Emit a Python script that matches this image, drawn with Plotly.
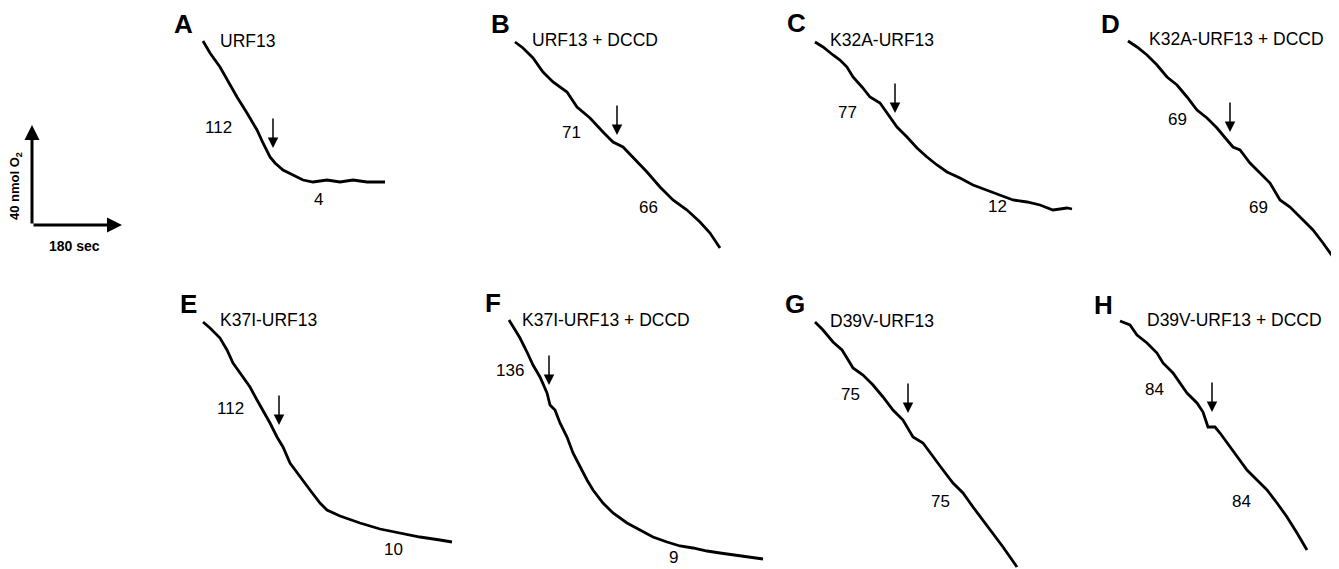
import plotly.graph_objects as go

# ---------------- data (time in s, O2 change in nmol) ----------------
panels = ["A", "B", "C", "D", "E", "F", "G", "H"]
titles = ["URF13", "URF13 + DCCD", "K32A-URF13", "K32A-URF13 + DCCD",
          "K37I-URF13", "K37I-URF13 + DCCD", "D39V-URF13", "D39V-URF13 + DCCD"]
rate_before = [112, 71, 77, 69, 112, 136, 75, 84]
rate_after = [4, 66, 12, 69, 10, 9, 75, 84]
add_time = [140, 204, 160, 204, 152, 80, 186, 184]
add_o2 = [-42.8, -37.2, -28.4, -36.4, -41.2, -26.0, -36.4, -36.4]

time_A = [0, 14, 34, 48, 68, 88, 108, 120, 134, 144, 160, 180, 200, 220, 248, 274, 300, 328, 364]
o2_A = [0, -4.8, -10.4, -15.6, -22.4, -28.8, -35.6, -40.8, -46.4, -48.8, -51.6, -53.6, -55.6,
        -56.4, -55.6, -56.4, -55.6, -56.4, -56.4]

time_B = [0, 16, 36, 56, 76, 104, 124, 150, 176, 196, 216, 236, 264, 290, 316, 344, 370, 390, 410]
o2_B = [0, -2.4, -6.4, -12, -16, -20, -26, -30.4, -36, -40, -42, -46, -52, -58, -63.2, -67.2,
        -72, -76.4, -82.4]

time_C = [0, 16, 36, 50, 64, 76, 94, 110, 130, 150, 164, 184, 204, 224, 244, 264, 290, 316, 344,
          370, 396, 424, 450, 476, 504, 514]
o2_C = [0, -2, -5.2, -7.2, -10, -14, -18, -22, -24.4, -30, -34, -38, -42.4, -46, -49.2, -52,
        -54.4, -57.2, -59.2, -61.2, -63.2, -64, -65.2, -67.2, -66.4, -66.8]

time_D = [0, 18, 38, 58, 78, 98, 118, 138, 158, 178, 198, 210, 224, 244, 264, 284, 304, 324,
          344, 370, 390, 410]
o2_D = [0, -2.4, -5.6, -9.6, -14.4, -17.6, -22.4, -27.6, -30.8, -34.8, -39.6, -42.4, -43.6,
        -48.8, -52.8, -56.8, -63.6, -66.4, -70.4, -75.6, -80.8, -86.4]

time_E = [0, 14, 34, 48, 60, 80, 94, 108, 120, 134, 148, 160, 174, 194, 214, 234, 248, 274,
          314, 354, 394, 434, 474, 498]
o2_E = [0, -2.4, -6.4, -11.2, -16.4, -22, -26, -31.2, -35.2, -40.4, -46, -50, -56.4, -62,
        -67.2, -72.4, -75.2, -77.6, -80.4, -82.8, -84.4, -86, -87.2, -88]

time_F = [0, 8, 22, 36, 48, 62, 76, 82, 92, 102, 116, 128, 142, 156, 168, 188, 208, 236, 262,
          288, 316, 342, 368, 396, 422, 448, 476, 508]
o2_F = [0, -2.8, -7.2, -12.8, -18, -22.8, -29.2, -34, -36, -41.2, -46.8, -53.2, -58.8, -64,
        -68, -73.2, -77.2, -81.2, -84, -86.8, -88.8, -90.4, -91.2, -92.4, -93.2, -94, -94.8, -95.6]

time_G = [0, 16, 36, 54, 64, 76, 96, 116, 136, 156, 176, 196, 216, 236, 256, 276, 296, 316,
          336, 356, 376, 390, 404]
o2_G = [0, -3.2, -8, -11.2, -14.4, -18.4, -21.2, -25.2, -30, -35.2, -39.2, -46, -48.4, -54,
        -59.2, -64.4, -68.4, -74, -79.2, -84.4, -90, -94, -98]

time_H = [0, 20, 34, 54, 74, 86, 106, 120, 134, 154, 166, 176, 190, 200, 220, 240, 254, 274,
          294, 314, 334, 354, 374]
o2_H = [0, -1.6, -5.6, -8.8, -12.8, -16.8, -20.8, -24.8, -28.8, -32.8, -36.4, -42.4, -42.4,
        -44.8, -50.4, -55.6, -59.6, -63.6, -67.6, -72.8, -78.4, -84.8, -91.6]

times = [time_A, time_B, time_C, time_D, time_E, time_F, time_G, time_H]
o2s = [o2_A, o2_B, o2_C, o2_D, o2_E, o2_F, o2_G, o2_H]

scale_time = 180   # s
scale_o2 = 40      # nmol O2

# ---------------- layout (pixel positions in the 1339x569 window) ----------------
W, H = 1339, 569
OFF = 8                    # page body margin
FW, FH = W - OFF, H - OFF  # figure size
SX, SY = 0.5, 2.5          # px per second, px per nmol

origins = [(203, 41), (515, 42), (815, 42), (1128, 41),
           (203, 322), (509, 320), (815, 322), (1120, 321)]
letter_pos = [(183, 24), (500, 24), (796, 23), (1110, 24),
              (188, 304), (493, 303), (795, 304), (1103, 305)]
title_pos = [(218, 41), (530, 40), (828, 40), (1147, 39),
             (218, 320), (520, 320), (828, 321), (1145, 320)]
rate1_pos = [(218, 127), (571, 132), (847, 112), (1177, 119),
             (230, 408), (510, 370), (850, 394), (1154, 389)]
rate2_pos = [(318, 199), (648, 208), (997, 206), (1258, 208),
             (394, 549), (673, 557), (940, 501), (1241, 501)]

FONT = "Liberation Sans, Arial, Helvetica, sans-serif"


def px(x):
    return (x - OFF) / FW


def py(y):
    return 1 - (y - OFF) / FH


def axnames(n):
    s = "" if n == 1 else str(n)
    return "x" + s, "y" + s, "xaxis" + s, "yaxis" + s


fig = go.Figure()
layout_axes = {}
annotations = []


def add_axes(n, x0, y0, left, right, top, bottom):
    xr, yr, xk, yk = axnames(n)
    left, right = max(left, OFF), min(right, W)
    top, bottom = max(top, OFF), min(bottom, H)
    layout_axes[xk] = dict(domain=[px(left), px(right)],
                           range=[(left - x0) / SX, (right - x0) / SX],
                           visible=False, fixedrange=True, anchor=yr)
    layout_axes[yk] = dict(domain=[py(bottom), py(top)],
                           range=[-(bottom - y0) / SY, (y0 - top) / SY],
                           visible=False, fixedrange=True, anchor=xr)
    return xr, yr


for i, p in enumerate(panels):
    x0, y0 = origins[i]
    xr, yr = add_axes(i + 1, x0, y0, x0 - 30, x0 + 260, y0 - 40, y0 + 250)
    fig.add_trace(go.Scatter(x=times[i], y=o2s[i], mode="lines",
                             line=dict(color="black", width=2.8),
                             xaxis=xr, yaxis=yr, showlegend=False,
                             hoverinfo="skip"))
    # addition arrow
    annotations.append(dict(x=add_time[i], y=add_o2[i], xref=xr, yref=yr,
                            ax=0, ay=-31, showarrow=True, arrowhead=2,
                            arrowsize=1.4, arrowwidth=1.5, arrowcolor="black",
                            text=""))
    lx, ly = letter_pos[i]
    annotations.append(dict(x=px(lx), y=py(ly), xref="paper", yref="paper",
                            text="<b>%s</b>" % p, showarrow=False,
                            font=dict(family=FONT, size=26, color="black"),
                            xanchor="center", yanchor="middle"))
    tx, ty = title_pos[i]
    annotations.append(dict(x=px(tx), y=py(ty), xref="paper", yref="paper",
                            text=titles[i], showarrow=False,
                            font=dict(family=FONT, size=17.5, color="black"),
                            xanchor="left", yanchor="middle"))
    for val, (rx, ry) in ((rate_before[i], rate1_pos[i]), (rate_after[i], rate2_pos[i])):
        annotations.append(dict(x=px(rx), y=py(ry), xref="paper", yref="paper",
                                text=str(val), showarrow=False,
                                font=dict(family=FONT, size=17, color="black"),
                                xanchor="center", yanchor="middle"))

# scale bar
sx0, sy0 = 32, 225
xr, yr = add_axes(9, sx0, sy0, 20, 150, 110, 240)
for (xx, yy) in ((scale_time, 0), (0, scale_o2)):
    annotations.append(dict(x=xx, y=yy, xref=xr, yref=yr, ax=0, ay=0,
                            axref=xr, ayref=yr, showarrow=True, arrowhead=2,
                            arrowsize=1.0, arrowwidth=3, arrowcolor="black",
                            text=""))
annotations.append(dict(x=px(16), y=py(186), xref="paper", yref="paper",
                        text="<b>%d nmol O<sub>2</sub></b>" % scale_o2, textangle=-90,
                        showarrow=False, font=dict(family=FONT, size=13, color="black"),
                        xanchor="center", yanchor="middle"))
annotations.append(dict(x=px(74), y=py(246), xref="paper", yref="paper",
                        text="<b>%d sec</b>" % scale_time, showarrow=False,
                        font=dict(family=FONT, size=14, color="black"),
                        xanchor="center", yanchor="middle"))
# invisible anchor trace for scale axes
fig.add_trace(go.Scatter(x=[0], y=[0], mode="markers", marker=dict(opacity=0),
                         xaxis=xr, yaxis=yr, showlegend=False, hoverinfo="skip"))

fig.update_layout(width=FW, height=FH, margin=dict(l=0, r=0, t=0, b=0),
                  paper_bgcolor="white", plot_bgcolor="white",
                  annotations=annotations, showlegend=False, **layout_axes)

fig.write_html("out.html")
